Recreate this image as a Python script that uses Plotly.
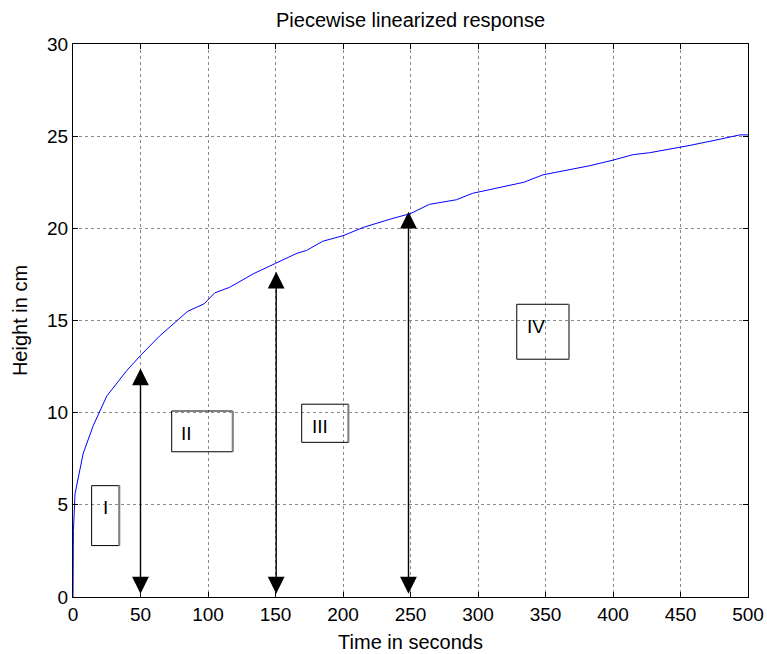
import plotly.graph_objects as go

# ---- data ----
t_vals = [0, 0.3, 1.5, 7.6, 15, 25, 40, 50, 64, 85, 97, 105, 116, 134, 150, 166, 173, 185,
          200, 215, 235, 250, 264, 284, 296, 334, 348, 363, 383, 400, 415, 427, 450, 457,
          477, 487, 494, 500]
h_vals = [0, 3.6, 5.6, 7.8, 9.3, 10.9, 12.3, 13.1, 14.15, 15.5, 15.9, 16.5, 16.8, 17.55,
          18.1, 18.65, 18.8, 19.3, 19.6, 20.05, 20.5, 20.8, 21.3, 21.55, 21.9, 22.5, 22.9,
          23.1, 23.4, 23.7, 24.0, 24.1, 24.4, 24.5, 24.8, 24.95, 25.07, 25.07]

arrow_x = [50, 150.5, 248.5]
arrow_bottom = [0.1, 0.1, 0.1]
arrow_top = [12.4, 17.65, 20.9]

box_labels = ["I", "II", "III", "IV"]
box_x0 = [13.8, 73.1, 169.4, 328.7]
box_x1 = [34.3, 118.3, 204.0, 367.4]
box_y0 = [2.79, 7.88, 8.39, 12.9]
box_y1 = [6.04, 10.09, 10.46, 15.88]
label_x = [23.7, 84.0, 183.0, 343.0]
label_y = [4.83, 8.88, 9.24, 14.67]

x_ticks = list(range(0, 501, 50))
y_ticks = list(range(0, 31, 5))

FONT = "Liberation Sans, Arial, sans-serif"

fig = go.Figure()
fig.add_trace(go.Scatter(x=t_vals, y=h_vals, mode="lines",
                         line=dict(color="#0000ff", width=1), showlegend=False,
                         hoverinfo="skip"))

shapes = []
annotations = []
for xa, yb, yt in zip(arrow_x, arrow_bottom, arrow_top):
    annotations.append(dict(x=xa, y=yt, ax=xa, ay=yb, xref="x", yref="y",
                            axref="x", ayref="y", text="", showarrow=True,
                            arrowhead=2, startarrowhead=2, arrowside="end+start",
                            arrowsize=2.4, startarrowsize=2.4, arrowwidth=1.4,
                            arrowcolor="black"))
for lab, x0, x1, y0, y1, lx, ly in zip(box_labels, box_x0, box_x1, box_y0, box_y1,
                                        label_x, label_y):
    shapes.append(dict(type="rect", xref="x", yref="y", x0=x0, x1=x1, y0=y0, y1=y1,
                       line=dict(color="black", width=1), fillcolor="rgba(0,0,0,0)"))
    shapes.append(dict(type="line", xref="x", yref="y", x0=x1, x1=x1, y0=y0, y1=y1,
                       line=dict(color="#808080", width=2)))
    annotations.append(dict(x=lx, y=ly, xref="x", yref="y", text=lab, showarrow=False,
                            font=dict(family=FONT, size=19, color="black")))

axis_common = dict(showline=True, linecolor="black", linewidth=1, mirror="ticks",
                   ticks="inside", ticklen=5, tickcolor="black", automargin=False,
                   showgrid=True, gridcolor="#8a8a8a", griddash="dot", gridwidth=1,
                   zeroline=False, tickfont=dict(family=FONT, size=19, color="black"))

fig.update_layout(
    width=767, height=654, autosize=False,
    margin=dict(l=73, r=19, t=44, b=57, autoexpand=False),
    paper_bgcolor="white", plot_bgcolor="white",
    title=dict(text="Piecewise linearized response", x=0.5, xanchor="center",
               xref="paper", y=1 - 20 / 654, yanchor="middle",
               font=dict(family=FONT, size=20, color="black")),
    xaxis=dict(range=[0, 500], tickvals=x_ticks,
               title=dict(text="Time in seconds", standoff=11,
                          font=dict(family=FONT, size=20, color="black")),
               **axis_common),
    yaxis=dict(range=[0, 30], tickvals=y_ticks,
               title=dict(text="Height in cm", standoff=14,
                          font=dict(family=FONT, size=20, color="black")),
               **axis_common),
    shapes=shapes, annotations=annotations,
)

fig.write_html("out.html")
